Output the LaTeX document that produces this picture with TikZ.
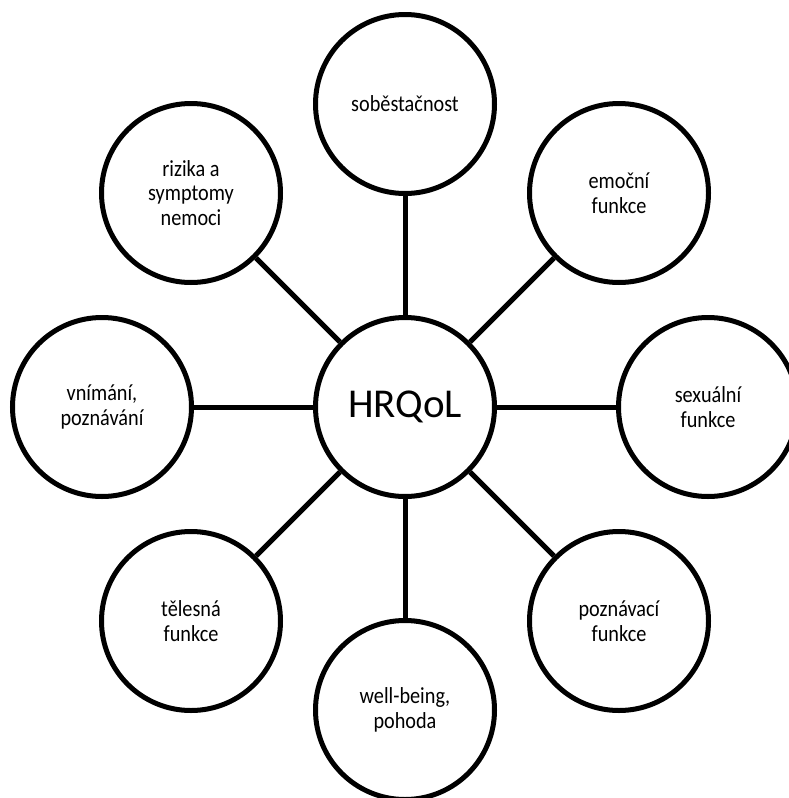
\documentclass[tikz,border=0pt]{standalone}
\usepackage{fontspec}
\setmainfont{Carlito}
\newfontfamily\narrowfont[FakeStretch=0.88]{Carlito}
\begin{document}
\begin{tikzpicture}[x=1pt,y=-1pt,
  bubble/.style={circle,draw=black,line width=5pt,fill=white,minimum size=179pt,inner sep=0pt,align=center,font=\narrowfont\fontsize{23}{24.5}\selectfont},
  hub/.style={bubble,font=\fontsize{41}{48}\selectfont},
  link/.style={line width=5pt,draw=black}]
\useasboundingbox (0,0) rectangle (788,798);
\node[hub] (c) at (405,407) {HRQoL};
\node[bubble] (n) at (405,104) {soběstačnost};
\node[bubble] (ne) at (619,193) {emoční\\funkce};
\node[bubble] (e) at (708,407) {sexuální\\funkce};
\node[bubble] (se) at (619,621) {poznávací\\funkce};
\node[bubble] (s) at (405,710) {well-being,\\pohoda};
\node[bubble] (sw) at (191,621) {tělesná\\funkce};
\node[bubble] (w) at (102,407) {vnímání,\\poznávání};
\node[bubble] (nw) at (191,193) {rizika a\\symptomy\\nemoci};
\foreach \t in {n,ne,e,se,s,sw,w,nw} \draw[link] (c) -- (\t);
\end{tikzpicture}
\end{document}
